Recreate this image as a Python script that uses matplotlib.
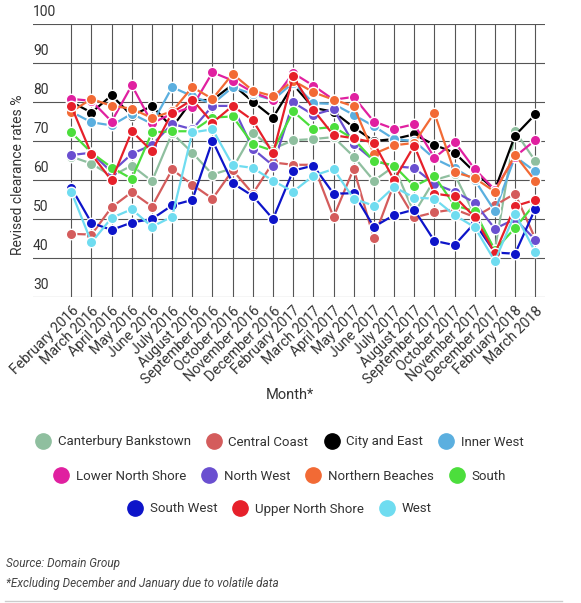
import matplotlib
matplotlib.use("Agg")
import matplotlib.pyplot as plt
from matplotlib.lines import Line2D

plt.rcParams['font.family'] = ['Roboto', 'DejaVu Sans']

months = ["February 2016", "March 2016", "April 2016", "May 2016", "June 2016", "July 2016",
          "August 2016", "September 2016", "October 2016", "November 2016", "December 2016",
          "February 2017", "March 2017", "April 2017", "May 2017", "June 2017", "July 2017",
          "August 2017", "September 2017", "October 2017", "November 2017", "December 2017",
          "February 2018", "March 2018"]

canterbury_bankstown = [66, 64.2, 61, 63.7, 59.7, 72, 67, 61.4, 63, 72.1, 68, 70.2,
                        70.5, 71, 66, 59.8, 63.5, 51.5, 60, 61.5, 51, 42, 72.5, 64.9]
central_coast = [46.2, 46, 53, 56.9, 53.2, 62.7, 58.8, 55.2, 62.5, 56.5, 64.5, 63.9,
                 63.9, 50.5, 62.9, 45.1, 59, 50.4, 51.7, 52.5, 50.5, 53.5, 56.5, 45]
city_and_east = [80, 77.3, 81.7, 76.5, 79, 73.5, 80.5, 80.5, 84.5, 80.1, 76, 84.5,
                 78.5, 77.5, 73.5, 70, 70.5, 71.7, 69, 67, 62, 57.5, 71.4, 76.8]
inner_west = [77.5, 74.8, 74, 77, 74.4, 83.8, 81.5, 79.5, 83.8, 82, 80.5, 85,
              79.7, 79.5, 76.7, 73.8, 70.5, 70, 65.5, 63, 60, 52, 66, 62.2]
lower_north_shore = [80.8, 80.3, 75, 84.3, 74.6, 77, 78.8, 87.6, 85.5, 82.5, 80.5, 87.4,
                     84.2, 80.6, 81.3, 75, 73.1, 74.3, 65.7, 69.8, 62.8, 57.5, 66, 70.2]
north_west = [66.4, 67, 62, 66.7, 69, 74.4, 73, 79, 79, 68, 63.7, 79.9,
              76.7, 78.2, 69.3, 65, 63.5, 63.1, 59, 57, 54.2, 47.5, 50, 44.7]
northern_beaches = [77.5, 80.8, 79, 78.3, 75.9, 77.6, 83.8, 80.8, 87.2, 82.9, 81.5, 85.5,
                    82.5, 80.6, 78.9, 66.7, 68.9, 69.5, 77.2, 62, 60.5, 57, 66.4, 59.8]
south = [72.2, 67, 63.2, 60.3, 72.2, 72.5, 72.5, 76, 76.3, 69.2, 67.5, 77.6,
         73.1, 73.6, 70.5, 64.9, 63.7, 58.4, 61, 53.5, 52, 42, 47.7, 54]
south_west = [58, 49, 47.2, 49.1, 50, 53.5, 54.9, 70.1, 59.2, 55.9, 50, 62.4,
              63.7, 56.5, 56.6, 48, 51, 52.4, 44.4, 43.3, 49, 41.4, 41.1, 52.6]
upper_north_shore = [78.9, 66.6, 59.9, 72.5, 67.4, 77.3, 80.6, 74.7, 79, 75.3, 66.8, 86.6,
                     78, 71.5, 70.7, 69.6, 60, 68.8, 56.5, 55.8, 50.5, 41.2, 53.3, 54.9]
west = [57, 44, 50.3, 52.5, 48, 50.6, 72.2, 73, 63.8, 63.1, 59.8, 57,
        61.1, 62.8, 55.2, 53.4, 58.2, 55.5, 55.2, 51, 47.9, 39.2, 51.4, 41.6]

series_names = ["Canterbury Bankstown", "Central Coast", "City and East", "Inner West",
                "Lower North Shore", "North West", "Northern Beaches", "South",
                "South West", "Upper North Shore", "West"]
series_values = [canterbury_bankstown, central_coast, city_and_east, inner_west,
                 lower_north_shore, north_west, northern_beaches, south,
                 south_west, upper_north_shore, west]
colors = ["#8fbf9f", "#d45c5c", "#000000", "#5bafdf", "#e020a0", "#6a4fd0",
          "#f26a35", "#4cde3c", "#0d14c9", "#e6202a", "#6fdcf0"]

y_ticks = [30, 40, 50, 60, 70, 80, 90, 100]

W, H = 581, 603
fig = plt.figure(figsize=(W / 100, H / 100), dpi=100)

left, right, top, bottom = 33, 545, 24, 297
ax = fig.add_axes([left / W, 1 - bottom / H, (right - left) / W, (bottom - top) / H])
n = len(months)
sp = 20.17
x0 = (left - 71.3) / sp
x1 = (right - 71.3) / sp
ax.set_xlim(x0, x1)
ax.set_ylim(30, 100)
for s in ax.spines.values():
    s.set_visible(False)

grid_col = "#555555"
for yv in y_ticks:
    ax.axhline(yv, color=grid_col, lw=0.8, zorder=1)
    ax.text(x0, yv + 1.2, str(yv), ha='left', va='bottom', fontsize=10, color="#333333")
for i in range(n):
    ax.plot([i, i], [30, 100], color=grid_col, lw=0.8, zorder=1)

xs = list(range(n))
for name, vals, c in zip(series_names, series_values, colors):
    ax.plot(xs, vals, color=c, lw=1.6, marker='o', markersize=7.5,
            markeredgecolor='white', markeredgewidth=1.0, zorder=3)

ax.set_yticks([])
ax.set_xticks(xs)
ax.set_xticklabels(months, rotation=45, ha='right', rotation_mode='anchor',
                   fontsize=10.2, color="#333333")
ax.tick_params(axis='x', length=0, pad=5)

fig.text(18 / W, 1 - 175 / H, "Revised clearance rates %", rotation=90,
         ha='center', va='center', fontsize=10, color="#333333")
fig.text(290 / W, 1 - 395 / H, "Month*", ha='center', va='center',
         fontsize=10.5, color="#333333")

rows = [[0, 1, 2, 3], [4, 5, 6, 7], [8, 9, 10]]
row_y = [442, 476, 509]
for r, yy in zip(rows, row_y):
    handles = [Line2D([], [], linestyle='none', marker='o', markersize=11,
                      markerfacecolor=colors[k], markeredgecolor=colors[k])
               for k in r]
    labels = [series_names[k] for k in r]
    leg = fig.legend(handles, labels, loc='center', bbox_to_anchor=(280 / W, 1 - yy / H),
                     ncol=len(r), frameon=False, fontsize=9.5, handlelength=1.0,
                     handletextpad=0.6, columnspacing=1.25, borderpad=0, borderaxespad=0)
    for t in leg.get_texts():
        t.set_color("#333333")

fig.text(6 / W, 1 - 563 / H, "Source: Domain Group", ha='left', va='center',
         fontsize=8.5, style='italic', color="#444444")
fig.text(6 / W, 1 - 584 / H, "*Excluding December and January due to volatile data",
         ha='left', va='center', fontsize=8.5, style='italic', color="#444444")
fig.add_artist(Line2D([5 / W, 562 / W], [1 - 601 / H, 1 - 601 / H], color="#cccccc", lw=1))

fig.savefig("out.png", dpi=100)
